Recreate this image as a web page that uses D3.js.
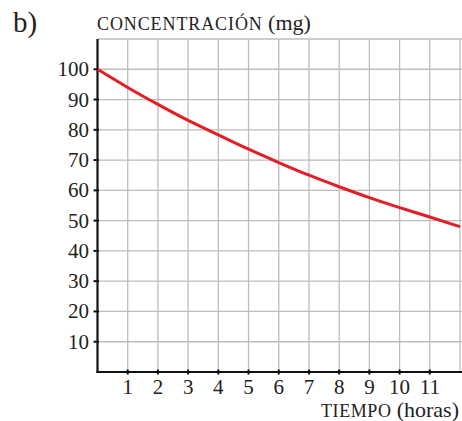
<!DOCTYPE html>
<html>
<head>
<meta charset="utf-8">
<script src="https://cdn.jsdelivr.net/npm/d3@7"></script>
<style>
  body { margin: 0; background: #fff; }
</style>
</head>
<body>
<script>
const width = 462, height = 421;
const serif = '"Liberation Serif", "Tinos", serif';

// hours and concentration
const hours = [0, 1, 2, 3, 4, 5, 6, 7, 8, 9, 10, 11, 12];
const concentration = [100, 94, 88.4, 83.1, 78.3, 73.6, 69.2, 65, 61.2, 57.6, 54.3, 51.2, 48];
const xTicks = [1, 2, 3, 4, 5, 6, 7, 8, 9, 10, 11];
const yTicks = [10, 20, 30, 40, 50, 60, 70, 80, 90, 100];

const x = d3.scaleLinear().domain([0, 12]).range([97.5, 460]);
const y = d3.scaleLinear().domain([0, 110]).range([372, 39]);

const svg = d3.select("body").append("svg")
    .attr("width", width)
    .attr("height", height);

// grid
svg.append("g")
  .selectAll("line")
  .data(d3.range(1, 13))
  .enter().append("line")
    .attr("x1", d => x(d)).attr("x2", d => x(d))
    .attr("y1", y(0)).attr("y2", y(110))
    .attr("stroke", "#bdbdbd").attr("stroke-width", 1.3);

svg.append("g")
  .selectAll("line")
  .data(d3.range(10, 111, 10))
  .enter().append("line")
    .attr("x1", x(0)).attr("x2", width)
    .attr("y1", d => y(d)).attr("y2", d => y(d))
    .attr("stroke", "#bdbdbd").attr("stroke-width", 1.3);

// axes
svg.append("line")
    .attr("x1", x(0)).attr("x2", x(0))
    .attr("y1", y(110)).attr("y2", y(0) + 1)
    .attr("stroke", "#111").attr("stroke-width", 2.2);
svg.append("line")
    .attr("x1", x(0) - 1).attr("x2", width)
    .attr("y1", y(0)).attr("y2", y(0))
    .attr("stroke", "#111").attr("stroke-width", 2.2);

// ticks
svg.append("g")
  .selectAll("line")
  .data(yTicks)
  .enter().append("line")
    .attr("x1", x(0) - 4).attr("x2", x(0) + 1.5)
    .attr("y1", d => y(d)).attr("y2", d => y(d))
    .attr("stroke", "#111").attr("stroke-width", 2);

svg.append("g")
  .selectAll("line")
  .data(xTicks)
  .enter().append("line")
    .attr("x1", d => x(d)).attr("x2", d => x(d))
    .attr("y1", y(0) - 2.5).attr("y2", y(0) + 2.5)
    .attr("stroke", "#111").attr("stroke-width", 2);

// tick labels
svg.append("g")
  .selectAll("text")
  .data(yTicks)
  .enter().append("text")
    .attr("x", 89)
    .attr("y", d => y(d) + 7)
    .attr("text-anchor", "end")
    .attr("fill", "#222")
    .style("font-family", serif)
    .style("font-size", "21px")
    .text(d => d);

svg.append("g")
  .selectAll("text")
  .data(xTicks)
  .enter().append("text")
    .attr("x", d => x(d))
    .attr("y", 394)
    .attr("text-anchor", "middle")
    .attr("fill", "#222")
    .style("font-family", serif)
    .style("font-size", "21px")
    .text(d => d);

// labels
svg.append("text")
    .attr("x", 13).attr("y", 32)
    .attr("fill", "#222")
    .style("font-family", serif)
    .style("font-size", "29px")
    .text("b)");

const yLabel = svg.append("text").attr("x", 97).attr("y", 30).attr("fill", "#222")
    .style("font-family", serif);
yLabel.append("tspan").style("font-size", "18px").style("letter-spacing", "0.9px").text("CONCENTRACIÓN ");
yLabel.append("tspan").style("font-size", "22px").text("(mg)");

const xLabel = svg.append("text").attr("x", 459).attr("y", 417).attr("text-anchor", "end").attr("fill", "#222")
    .style("font-family", serif);
xLabel.append("tspan").style("font-size", "18px").style("letter-spacing", "0.6px").text("TIEMPO ");
xLabel.append("tspan").style("font-size", "22px").text("(horas)");

// curve
const line = d3.line()
    .x((d, i) => x(hours[i]))
    .y(d => y(d))
    .curve(d3.curveNatural);

svg.append("path")
    .datum(concentration)
    .attr("d", line)
    .attr("fill", "none")
    .attr("stroke", "#e41e26")
    .attr("stroke-width", 3);
</script>
</body>
</html>
